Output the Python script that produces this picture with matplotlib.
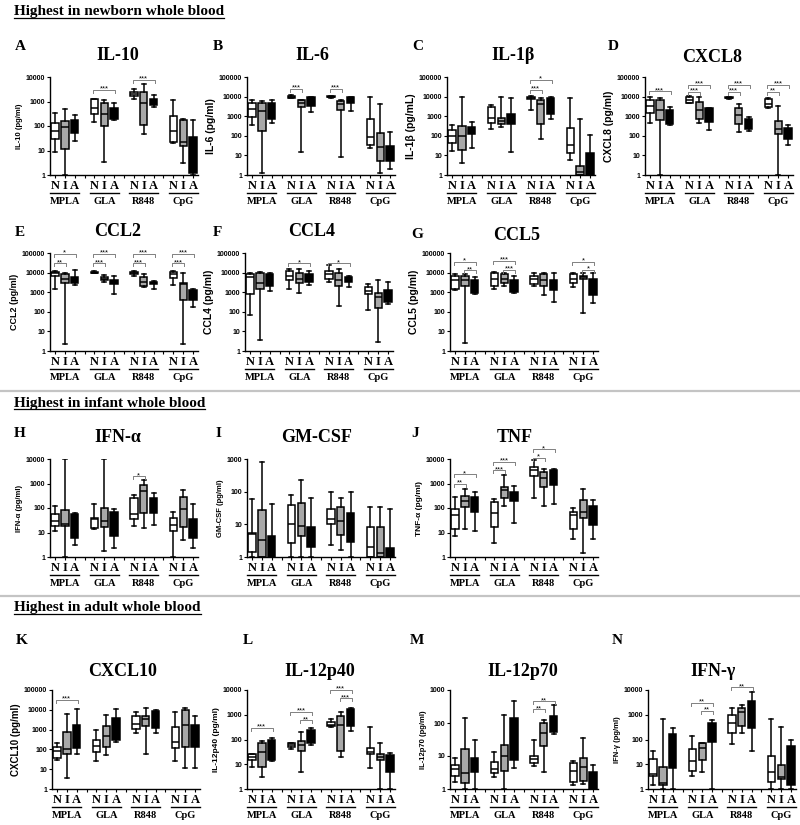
import matplotlib
matplotlib.use("Agg")
import matplotlib.pyplot as plt
from matplotlib.lines import Line2D
from matplotlib.ticker import FixedLocator, NullLocator, FuncFormatter

W, H = 800, 825
SERIF = "Liberation Serif"
SANS = "Liberation Sans"

groups = ["MPLA", "GLA", "R848", "CpG"]
members = ["N", "I", "A"]
fills = ["white", "#a8a8a8", "black"]
positions = [1, 2, 3, 5, 6, 7, 9, 10, 11, 13, 14, 15]

# box stats per panel: [whisker low, q1, median, q3, whisker high], order N I A x MPLA GLA R848 CpG
il10 = [[9, 30, 60, 130, 350], [1, 12, 90, 160, 500], [25, 50, 80, 180, 270],
        [150, 300, 550, 1300, 1300], [3.5, 100, 300, 900, 1200], [170, 200, 350, 550, 900],
        [1300, 1600, 2000, 2400, 3200], [45, 110, 900, 2500, 5000], [600, 700, 900, 1300, 1800],
        [20, 22, 60, 260, 1200], [3, 15, 22, 170, 190], [1, 1.2, 5, 35, 170]]
il6 = [[350, 900, 2200, 4500, 7000], [1.2, 180, 1800, 4500, 6000], [450, 700, 1500, 4500, 6500],
       [8000, 8500, 9500, 11000, 12000], [15, 3000, 5000, 6500, 7000], [1700, 3500, 5000, 9000, 10000],
       [8500, 9000, 9500, 10500, 11000], [8, 2000, 4000, 6000, 7000], [1800, 5000, 7000, 9500, 10000],
       [25, 35, 90, 700, 9000], [1.3, 5, 28, 140, 4000], [2, 5, 12, 30, 150]]
il1b = [[17, 45, 100, 200, 350], [4, 18, 100, 300, 9000], [25, 130, 180, 280, 500],
        [230, 460, 800, 2800, 3800], [270, 400, 550, 800, 9000], [15, 400, 700, 1300, 8000],
        [2000, 7500, 8500, 10000, 11000], [65, 420, 4000, 6500, 8000], [750, 1300, 4000, 8000, 9000],
        [5.5, 14, 35, 250, 8000], [1, 1, 1.5, 3, 700], [1, 1, 1.5, 14, 110]]
cxcl8 = [[450, 1500, 3500, 6500, 10000], [1, 650, 2000, 7000, 8000], [350, 400, 800, 2000, 3000],
         [4500, 5000, 7000, 9000, 11000], [450, 700, 2000, 5500, 9000], [200, 500, 1200, 2500, 2500],
         [7500, 8000, 8500, 9000, 9500], [160, 400, 1100, 2500, 4200], [180, 220, 350, 700, 900],
         [2500, 3000, 4000, 7500, 8500], [1, 120, 220, 550, 3500], [35, 65, 120, 250, 350]]
ccl2 = [[1500, 7000, 9000, 11000, 12000], [2.3, 2800, 5000, 8000, 9500], [2200, 3000, 4500, 6000, 14000],
        [9000, 9500, 10000, 11000, 12000], [3500, 4000, 5000, 6000, 7500], [800, 2500, 3200, 4000, 6500],
        [7000, 8000, 9500, 11000, 12000], [1800, 2000, 3500, 6000, 8000], [1500, 2500, 3000, 3500, 3800],
        [2300, 5500, 8000, 11000, 12000], [2.3, 400, 2500, 3000, 9000], [180, 400, 800, 1300, 1500]]
ccl4 = [[70, 800, 6000, 8000, 9000], [3.5, 1500, 3000, 10000, 11000], [1200, 2000, 4500, 8000, 9000],
        [1500, 4000, 7000, 12000, 15000], [900, 3000, 5000, 10000, 15000], [2200, 3500, 5000, 8000, 12000],
        [3500, 5000, 8000, 12000, 25000], [200, 2000, 4000, 10000, 15000], [1800, 3500, 5000, 6000, 7000],
        [120, 800, 1200, 1800, 2500], [2.8, 150, 600, 900, 4000], [250, 300, 700, 1300, 3500]]
ccl5 = [[1300, 1400, 4000, 7000, 8000], [2.7, 2000, 4000, 7000, 8000], [800, 900, 1500, 4000, 6000],
        [1400, 2000, 4500, 9000, 11000], [2000, 3000, 5000, 8000, 10000], [900, 1000, 2000, 4000, 7000],
        [2000, 2500, 5000, 7000, 9000], [700, 2000, 4000, 8000, 9000], [300, 1300, 2000, 4000, 9000],
        [1800, 3000, 5000, 8000, 9000], [90, 5000, 6000, 7000, 10000], [280, 700, 1500, 4500, 9000]]
ifna = [[11, 18, 30, 55, 120], [1, 18, 22, 85, 10000], [3.2, 6, 15, 55, 60],
        [14, 15, 35, 40, 150], [1.7, 17, 30, 100, 10000], [2.3, 7, 15, 70, 90],
        [18, 35, 55, 250, 330], [15, 65, 500, 850, 1400], [20, 65, 110, 260, 420],
        [1, 11, 20, 40, 70], [5, 17, 90, 270, 550], [2.3, 6, 20, 35, 140]]
gmcsf = [[1, 1.4, 5, 5.5, 58], [1, 1, 3.2, 27, 800], [1, 1, 1, 4.5, 43],
         [1, 2.7, 10, 40, 80], [1, 4.5, 9, 45, 220], [1, 2, 3, 8, 65],
         [2.3, 10, 15, 30, 95], [1.6, 4.8, 13, 35, 65], [1, 2.8, 8, 22, 100],
         [1, 1, 2, 8, 35], [1, 1, 1.3, 8, 35], [1, 1, 1.1, 1.9, 30]]
tnf = [[7, 14, 50, 95, 280], [14, 110, 190, 320, 600], [12, 70, 130, 280, 450],
       [3.8, 16, 60, 180, 230], [120, 260, 550, 700, 2300], [25, 200, 280, 450, 800],
       [260, 2000, 3500, 4500, 9000], [120, 750, 1700, 3000, 3800], [140, 850, 2000, 3500, 3800],
       [5.5, 14, 50, 70, 100], [1.4, 40, 70, 220, 600], [5.5, 20, 50, 120, 220]]
cxcl10 = [[30, 35, 80, 130, 200], [3.5, 60, 100, 800, 6000], [60, 120, 400, 1700, 11000],
          [25, 70, 150, 300, 1000], [55, 130, 500, 1600, 5500], [250, 300, 1000, 4000, 11000],
          [700, 1100, 2000, 5000, 7500], [60, 1600, 3500, 5000, 12000], [650, 1200, 2500, 8500, 10000],
          [25, 120, 250, 1300, 8000], [11, 140, 1800, 10000, 12000], [11, 130, 800, 1700, 5000]]
il12p40 = [[8, 15, 20, 25, 27], [3, 8, 30, 70, 90], [14, 15, 40, 100, 110],
           [40, 50, 60, 70, 75], [5, 35, 60, 90, 200], [60, 70, 120, 250, 300],
           [330, 350, 400, 500, 650], [20, 35, 400, 900, 1300], [230, 350, 900, 1700, 1800],
           [7, 25, 30, 45, 320], [1, 15, 20, 25, 70], [1, 5, 10, 23, 28]]
il12p70 = [[1.6, 2.5, 4, 5.5, 8.5], [1, 1.5, 3, 16, 140], [1, 3.2, 5, 8.5, 30],
           [2.3, 3, 4, 6.5, 13], [1, 3.5, 10, 22, 180], [4.3, 7.5, 30, 140, 480],
           [5, 6, 8, 10, 30], [3.3, 20, 50, 100, 120], [45, 55, 80, 160, 350],
           [1.3, 1.6, 3.5, 6, 7], [1.4, 1.8, 4.5, 9, 35], [1, 1, 1.5, 3.3, 5.5]]
ifng = [[1.4, 3.5, 4, 16, 35], [1, 1.4, 1.8, 8, 700], [1, 7, 30, 160, 300],
        [3.2, 5.5, 13, 40, 140], [5, 15, 45, 70, 70], [1, 80, 200, 480, 600],
        [65, 180, 450, 1000, 1800], [190, 350, 1300, 1800, 2500], [35, 280, 800, 3700, 8000],
        [1, 2, 5, 22, 700], [1, 2.5, 3, 9, 330], [1, 1.5, 5, 55, 95]]

# significance: (x1, x2, y, label)
sig_a = [(5, 7, 3000, "***"), (9, 11, 7500, "***")]
sig_b = [(5, 6, 25000, "***"), (9, 10, 25000, "***")]
sig_c = [(9, 11, 70000, "*"), (9, 10, 22000, "***")]
sig_d = [(1, 3, 19000, "***"), (5, 7, 40000, "***"), (5, 6, 18000, "***"),
         (9, 11, 40000, "***"), (9, 10, 18000, "***"), (13, 15, 40000, "***"), (13, 14, 18000, "**")]
sig_e = [(1, 3, 90000, "*"), (1, 2, 30000, "**"), (5, 7, 90000, "***"), (5, 6, 30000, "***"),
         (9, 11, 90000, "***"), (9, 10, 30000, "***"), (13, 15, 90000, "***"), (13, 14, 30000, "***")]
sig_f = [(5, 7, 30000, "*"), (9, 11, 30000, "*")]
sig_g = [(1, 3, 35000, "*"), (2, 3, 13000, "**"), (5, 7, 40000, "***"), (6, 7, 14000, "***"),
         (13, 15, 35000, "*"), (14, 15, 14000, "*")]
sig_h = [(9, 10, 2000, "*")]
sig_i = []
sig_j = [(1, 3, 2400, "*"), (1, 2, 1000, "**"), (5, 7, 7700, "***"), (5, 6, 3500, "***"),
         (9, 11, 25000, "*"), (9, 10, 11000, "*")]
sig_k = [(1, 3, 31000, "***")]
sig_l = [(1, 3, 290, "***"), (5, 7, 1300, "***"), (6, 7, 600, "**"), (9, 11, 10000, "***"), (10, 11, 4700, "***")]
sig_m = [(9, 11, 460, "**"), (9, 10, 260, "**")]
sig_n = [(5, 7, 3000, "**"), (6, 7, 1450, "**"), (9, 11, 13000, "**")]

# letter, title, ylabel, data, ymax, sigs, ylabel size
panels = [
    ("A", "IL-10", "IL-10 (pg/ml)", il10, 1e4, sig_a, 5.5),
    ("B", "IL-6", "IL-6 (pg/ml)", il6, 1e5, sig_b, 7.5),
    ("C", "IL-1β", "IL-1β (pg/mL)", il1b, 1e5, sig_c, 7.5),
    ("D", "CXCL8", "CXCL8 (pg/ml)", cxcl8, 1e5, sig_d, 7.5),
    ("E", "CCL2", "CCL2 (pg/ml)", ccl2, 1e5, sig_e, 6.5),
    ("F", "CCL4", "CCL4 (pg/ml)", ccl4, 1e5, sig_f, 7.5),
    ("G", "CCL5", "CCL5 (pg/ml)", ccl5, 1e5, sig_g, 7.5),
    ("H", "IFN-α", "IFN-α (pg/ml)", ifna, 1e4, sig_h, 5.5),
    ("I", "GM-CSF", "GM-CSF (pg/ml)", gmcsf, 1e3, sig_i, 5.5),
    ("J", "TNF", "TNF-α (pg/ml)", tnf, 1e4, sig_j, 6),
    ("K", "CXCL10", "CXCL10 (pg/ml)", cxcl10, 1e5, sig_k, 7),
    ("L", "IL-12p40", "IL-12p40 (pg/ml)", il12p40, 1e4, sig_l, 6),
    ("M", "IL-12p70", "IL-12p70 (pg/ml)", il12p70, 1e3, sig_m, 5.5),
    ("N", "IFN-γ", "IFN-γ (pg/ml)", ifng, 1e4, sig_n, 5.5),
]

# pixel layout: axes left, axes top, axes height, letter (x, y), title (x, y)
layout = {
    "A": (50, 77, 98, (20, 47), (118, 55)),
    "B": (247, 77, 98, (218, 47), (312, 55)),
    "C": (447, 77, 98, (418, 47), (513, 55)),
    "D": (645, 77, 98, (613, 47), (712, 57)),
    "E": (50, 253, 98, (20, 232), (118, 232)),
    "F": (245, 253, 98, (217, 232), (312, 232)),
    "G": (450, 253, 98, (417, 235), (517, 235)),
    "H": (50, 459, 98, (20, 433), (118, 438)),
    "I": (247, 459, 98, (218, 433), (317, 438)),
    "J": (450, 459, 98, (415, 433), (515, 437)),
    "K": (52, 690, 99, (22, 640), (123, 672)),
    "L": (247, 690, 99, (248, 640), (320, 672)),
    "M": (450, 690, 99, (417, 640), (523, 672)),
    "N": (648, 690, 99, (617, 640), (713, 672)),
}
AX_W = 148

fig = plt.figure(figsize=(W / 100, H / 100), dpi=100)


def fx(px):
    return px / W


def fy(py):
    return 1 - py / H


xt = list(range(1, 16))
xt_labels = [members[(p - 1) % 4] if (p % 4) != 0 else "" for p in xt]

for letter, title, ylab, data, ymax, sigs, ylsize in panels:
    left, top, hgt, lpos, tpos = layout[letter]
    ax = fig.add_axes([fx(left), fy(top + hgt), fx(AX_W), hgt / H])
    stats = [dict(whislo=d[0], q1=d[1], med=d[2], q3=d[3], whishi=d[4]) for d in data]
    bp = ax.bxp(stats, positions=positions, widths=0.75, showfliers=False, patch_artist=True,
                capwidths=0.4,
                boxprops=dict(linewidth=1.1, edgecolor="black"),
                whiskerprops=dict(linewidth=1.1, color="black"),
                capprops=dict(linewidth=1.1, color="black"),
                medianprops=dict(linewidth=1.1, color="black"))
    for patch, c in zip(bp["boxes"], fills * 4):
        patch.set_facecolor(c)

    ax.set_yscale("log")
    ax.set_ylim(1, ymax)
    ax.set_xlim(0.5, 15.5)
    ax.yaxis.set_major_locator(FixedLocator([10 ** k for k in range(0, 6) if 10 ** k <= ymax]))
    ax.yaxis.set_minor_locator(NullLocator())
    ax.yaxis.set_major_formatter(FuncFormatter(lambda v, _: "%d" % round(v)))
    ax.set_xticks(xt)
    ax.set_xticklabels(xt_labels, family=SERIF, fontweight="bold", fontsize=9)
    ax.tick_params(axis="x", length=2.5, width=0.8, pad=1)
    ax.tick_params(axis="y", length=2.5, width=0.8, pad=1, labelsize=5)
    for t in ax.get_yticklabels():
        t.set_family(SANS)
        t.set_fontweight("bold")
    for s in ["top", "right"]:
        ax.spines[s].set_visible(False)
    for s in ["left", "bottom"]:
        ax.spines[s].set_linewidth(1.0)
    ax.set_ylabel(ylab, family=SANS, fontweight="bold", fontsize=ylsize, labelpad=2)

    # group underline and names
    tr = ax.get_xaxis_transform()
    for g, name in enumerate(groups):
        x0 = positions[g * 3] - 0.45
        x1 = positions[g * 3 + 2] + 0.45
        ax.plot([x0, x1], [-18 / hgt] * 2, transform=tr, color="black", lw=1.0, clip_on=False)
        ax.text((x0 + x1) / 2, -26 / hgt, name, transform=tr, ha="center", va="center",
                family=SERIF, fontweight="bold", fontsize=7.5)

    # significance brackets
    ndec = len(str(int(ymax))) - 1
    drop = 10 ** (-3.0 / (hgt / ndec))
    for x1, x2, y, lab in sigs:
        ax.plot([x1 - 0.1, x1 - 0.1, x2 + 0.1, x2 + 0.1], [y * drop, y, y, y * drop],
                color="#808080", lw=0.7, clip_on=False)
        ax.annotate(lab, xy=((x1 + x2) / 2, y), xytext=(0, -2), textcoords="offset points",
                    ha="center", va="bottom", fontsize=5.5, family=SANS, annotation_clip=False)

    fig.text(fx(lpos[0]), fy(lpos[1]), letter, ha="center", va="center",
             family=SERIF, fontweight="bold", fontsize=11)
    fig.text(fx(tpos[0]), fy(tpos[1]), title, ha="center", va="center",
             family=SERIF, fontweight="bold", fontsize=13)

# section headers
headers = [("Highest in newborn whole blood", 12, 17.5),
           ("Highest in infant whole blood", 403, 409),
           ("Highest in adult whole blood", 608, 614)]
renderer = fig.canvas.get_renderer()
for txt, yc, yu in headers:
    t = fig.text(fx(14), fy(yc), txt, ha="left", va="center",
                 family=SERIF, fontweight="bold", fontsize=11)
    bb = t.get_window_extent(renderer=renderer)
    fig.add_artist(Line2D([bb.x0 / W, bb.x1 / W], [fy(yu)] * 2, transform=fig.transFigure,
                          color="black", lw=0.9))

for ys in [391, 596]:
    fig.add_artist(Line2D([0, 1], [fy(ys)] * 2, transform=fig.transFigure, color="#c4c4c4", lw=1.6))

fig.savefig("out.png", dpi=100)
